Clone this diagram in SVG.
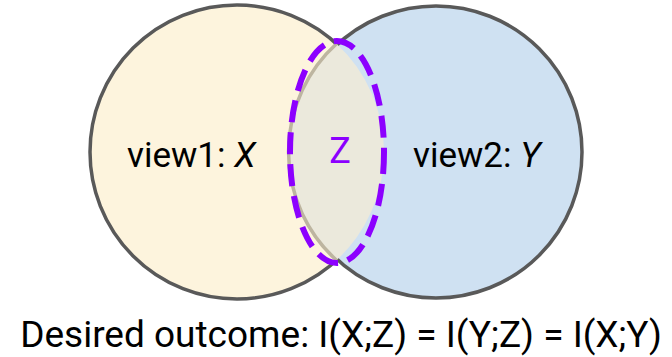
<svg xmlns="http://www.w3.org/2000/svg" width="672" height="357" viewBox="0 0 672 357">
<style>
.lbl{font-family:Roboto,"Liberation Sans",sans-serif;font-size:35px;fill:#000}
.outline{stroke:#595959;stroke-width:3.5}
</style>
<rect width="672" height="357" fill="#fff"/>
<g id="view1">
<circle cx="237" cy="152" r="147" fill="#fdf4dd" class="outline"/>
</g>
<g id="view2">
<circle cx="436" cy="152" r="146" fill="#cfe1f2" class="outline"/>
</g>
<g id="overlap">
<path d="M336.5,43.8 A146,146 0 0 0 336.5,260.2 A147,147 0 0 0 336.5,43.8 Z" fill="#ebe9dc"/>
<path d="M336.5,43.8 A146,146 0 0 0 336.5,260.2" fill="none" stroke="#bdb5a0" stroke-width="3.5"/>
</g>
<g id="labels">
<text class="lbl" x="127" y="167">view1: <tspan font-style="italic">X</tspan></text>
<text class="lbl" x="413" y="167">view2: <tspan font-style="italic">Y</tspan></text>
</g>
<g id="Z">
<ellipse cx="337" cy="152" rx="47" ry="111" fill="none" stroke="#8c00ff" stroke-width="6" stroke-dasharray="22 10"/>
<text x="340" y="163" text-anchor="middle" font-family="Roboto,'Liberation Sans',sans-serif" font-size="36" fill="#8c00ff">Z</text>
</g>
<g id="caption">
<text x="341" y="347" text-anchor="middle" font-family="Roboto,'Liberation Sans',sans-serif" font-size="37" fill="#000">Desired outcome: I(X;Z) = I(Y;Z) = I(X;Y)</text>
</g>
</svg>
